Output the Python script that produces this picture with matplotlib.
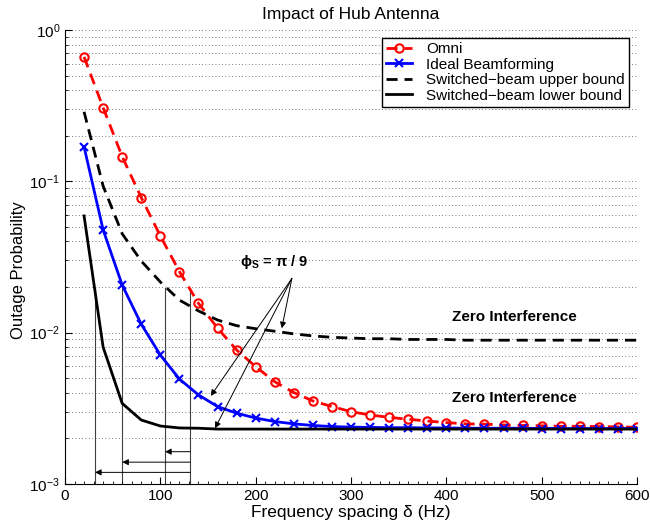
import numpy as np
import matplotlib
matplotlib.use("Agg")
import matplotlib.pyplot as plt
from matplotlib.ticker import MultipleLocator, LogLocator, NullFormatter

plt.rcParams['font.family'] = ['Liberation Sans', 'DejaVu Sans']
plt.rcParams['mathtext.fontset'] = 'custom'
plt.rcParams['mathtext.rm'] = 'Liberation Sans'
plt.rcParams['mathtext.bf'] = 'Liberation Sans:bold'

delta = [20, 40, 60, 80, 100, 120, 140, 160, 180, 200, 220, 240, 260, 280, 300,
         320, 340, 360, 380, 400, 420, 440, 460, 480, 500, 520, 540, 560, 580, 600]

omni = [0.665, 0.307, 0.1455, 0.078, 0.0435, 0.0253, 0.0156, 0.0107, 0.00767, 0.00595,
        0.00473, 0.00401, 0.00353, 0.00324, 0.0030, 0.00285, 0.00275, 0.00267, 0.0026, 0.00254,
        0.00249, 0.00248, 0.00245, 0.00243, 0.00242, 0.0024, 0.0024, 0.00239, 0.00238, 0.00236]

ideal_bf = [0.169, 0.0477, 0.0206, 0.01135, 0.0071, 0.00493, 0.00387, 0.00324, 0.00293, 0.00272,
            0.00258, 0.00249, 0.00243, 0.00239, 0.00237, 0.00236, 0.00235, 0.00235, 0.00234, 0.00234,
            0.00233, 0.00233, 0.00233, 0.00233, 0.00232, 0.00232, 0.00232, 0.00232, 0.00232, 0.00232]

sb_upper = [0.288, 0.093, 0.045, 0.0297, 0.0216, 0.0164, 0.0139, 0.0121, 0.0111, 0.0106,
            0.0102, 0.0098, 0.0095, 0.0093, 0.0092, 0.0091, 0.0091, 0.0090, 0.0090, 0.0090,
            0.0089, 0.0089, 0.0089, 0.0089, 0.0089, 0.0089, 0.0089, 0.0089, 0.0089, 0.0089]

sb_lower = [0.059, 0.008, 0.0034, 0.00264, 0.00241, 0.00234, 0.00233, 0.0023, 0.0023, 0.0023,
            0.0023, 0.0023, 0.0023, 0.0023, 0.0023, 0.0023, 0.0023, 0.0023, 0.0023, 0.0023,
            0.0023, 0.0023, 0.0023, 0.0023, 0.0023, 0.0023, 0.0023, 0.0023, 0.0023, 0.0023]

# annotation data (delta where each curve reaches ~0.02)
cross_level = 0.0197
cross_delta = [31.5, 60.1, 105, 131.2]
arrow_levels = [0.00163, 0.00139, 0.00119]
arrow_targets = [105, 60.1, 31.5]

fig = plt.figure(figsize=(6.5, 5.27), dpi=100)
ax = fig.add_axes([0.1, 0.082, 0.88, 0.861])

ax.plot(delta, omni, color='red', ls=(0, (4, 2.5)), lw=2, marker='o', ms=6,
        mfc='none', mec='red', mew=1.5, label='Omni')
ax.plot(delta, ideal_bf, color='blue', ls='-', lw=2, marker='x', ms=6, mew=1.5,
        label='Ideal Beamforming')
ax.plot(delta, sb_upper, color='black', ls=(0, (4, 2.5)), lw=2,
        label='Switched\u2212beam upper bound')
ax.plot(delta, sb_lower, color='black', ls='-', lw=2,
        label='Switched\u2212beam lower bound')

ax.set_yscale('log')
ax.set_xlim(0, 600)
ax.set_ylim(1e-3, 1)

# vertical marker lines
for d in cross_delta:
    ax.plot([d, d], [1e-3, cross_level], color='0.25', lw=0.8, zorder=1)

# horizontal arrows
for lev, tgt in zip(arrow_levels, arrow_targets):
    ax.annotate('', xy=(tgt, lev), xytext=(cross_delta[-1], lev),
                arrowprops=dict(arrowstyle='-|>', color='black', lw=0.7,
                                mutation_scale=9, shrinkA=0, shrinkB=0))

# phi annotation
ax.text(219, 0.0293, '\u03d5$_{\\mathbf{S}}$ = \u03c0 / 9', fontsize=10.5, fontweight='bold',
        ha='center', va='center')
src = (238, 0.0228)
for tgt in [(227.4, 0.01067), (152.9, 0.00381), (157.4, 0.00233)]:
    ax.annotate('', xy=tgt, xytext=src,
                arrowprops=dict(arrowstyle='-|>', color='black', lw=0.7,
                                mutation_scale=9, shrinkA=0, shrinkB=0))

ax.text(471, 0.01274, 'Zero Interference', fontsize=11, fontweight='bold',
        ha='center', va='center')
ax.text(471, 0.00368, 'Zero Interference', fontsize=11, fontweight='bold',
        ha='center', va='center')

ax.set_title('Impact of Hub Antenna', fontsize=12.5, pad=8)
ax.set_xlabel('Frequency spacing \u03b4 (Hz)', fontsize=12.5, labelpad=2)
ax.set_ylabel('Outage Probability', fontsize=12, labelpad=4)
ax.yaxis.set_label_coords(-0.068, 0.47)

ax.xaxis.set_major_locator(MultipleLocator(100))
ax.xaxis.set_minor_locator(MultipleLocator(10))
ax.yaxis.set_major_locator(LogLocator(base=10, numticks=10))
ax.yaxis.set_minor_locator(LogLocator(base=10, subs=np.arange(2, 10), numticks=20))
ax.yaxis.set_minor_formatter(NullFormatter())
ax.tick_params(axis='both', which='both', direction='in', labelsize=11)
ax.tick_params(which='major', length=5)
ax.tick_params(which='minor', length=2.5)

ax.yaxis.grid(True, which='both', ls=(0, (1, 3)), color='0.3', lw=0.6)
ax.xaxis.grid(False)
ax.spines['top'].set_visible(False)
ax.spines['right'].set_visible(False)

leg = ax.legend(loc='upper right', fontsize=11, frameon=True, fancybox=False,
                edgecolor='black', framealpha=1, handlelength=1.7,
                borderaxespad=0.5, labelspacing=0.1, borderpad=0.3,
                handletextpad=0.9)
leg.get_frame().set_linewidth(1.0)

fig.savefig('out.png', dpi=100)
